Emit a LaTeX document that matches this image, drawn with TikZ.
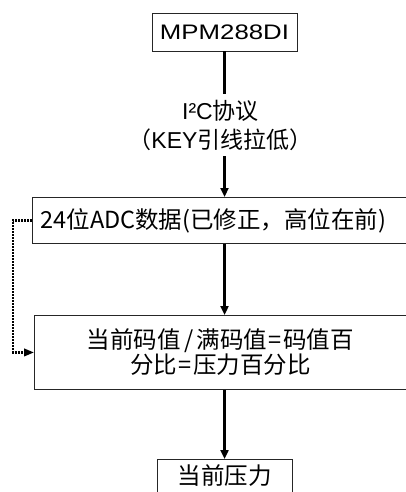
\documentclass[tikz,border=0pt]{standalone}
\usepackage{fontspec}
\setmainfont{Liberation Sans}
\newfontfamily\cjk{Noto Sans CJK SC}
\usetikzlibrary{arrows.meta}
\begin{document}
\begin{tikzpicture}[x=1pt,y=-1pt,
  box/.style={draw=black!85, line width=0.9pt, inner sep=0pt},
  flow/.style={line width=2.4pt, draw=black, -{Triangle[length=9pt,width=8pt]}},
  plain/.style={line width=2.4pt, draw=black},
  dotline/.style={line width=2.2pt, draw=black, dash pattern=on 1.8pt off 1.2pt, -{Triangle[length=10pt,width=7.5pt]}},
  cjkbig/.style={font=\cjk\fontsize{23.5}{20}\selectfont}]
\useasboundingbox[fill=white] (0,0) rectangle (406,492);

\node[box, minimum width=145pt, minimum height=38pt,
      font=\fontsize{21}{24}\selectfont] (mpm) at (224.5,32) {\resizebox{129pt}{\height}{MPM288DI}};

\node[inner xsep=2pt, inner ysep=6pt, align=center,
      font=\fontsize{23}{29}\selectfont] (lbl) at (220.5,125)
      {I²C{\cjk 协议}\\{\cjk （}KEY{\cjk 引线拉低）}};

\node[box, cjkbig, anchor=north west, minimum height=46pt, text width=420pt,
      align=left] (adc) at (32,197)
      {\hspace*{8pt}24位ADC数据(已修正，高位在前)};

\node[box, cjkbig, anchor=north west, minimum height=74pt, text width=430pt,
      align=left] (calc) at (34,315)
      {\makebox[372pt]{当前码值\makebox[0.68em]{/}满码值\makebox[0.68em]{=}码值百}\\
       \makebox[372pt]{分比\makebox[0.68em]{=}压力百分比}};

\node[box, cjkbig, anchor=north, minimum width=135pt, text height=25pt,
      text depth=15pt] (cur) at (224.5,459) {当前压力};

\draw[plain] (mpm.south) -- (mpm.south |- lbl.north);
\draw[flow] (mpm.south |- lbl.south) -- (mpm.south |- adc.north);
\draw[flow] (mpm.south |- adc.south) -- (mpm.south |- calc.north);
\draw[flow] (mpm.south |- calc.south) -- (cur.north);
\draw[dotline] (adc.west) -- ++(-19,0) |- (calc.west);
\end{tikzpicture}
\end{document}
